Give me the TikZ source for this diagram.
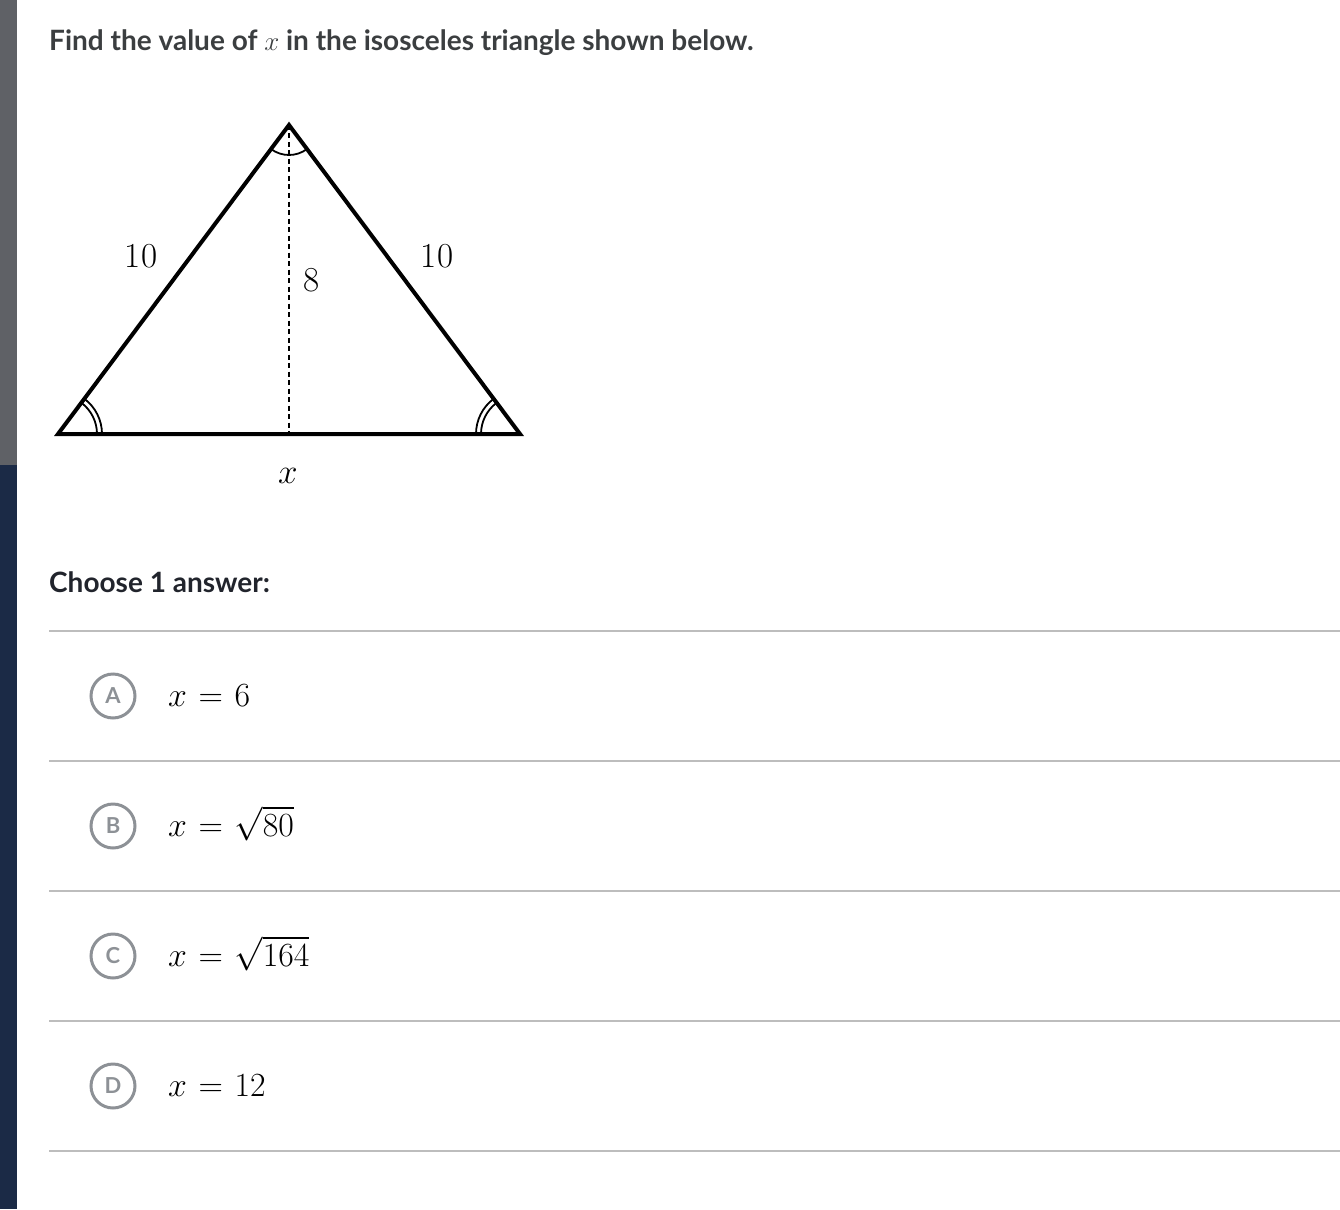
\documentclass[tikz,border=0pt]{standalone}
\usepackage{fontspec}
\usepackage{graphicx}
\newfontfamily\lato{Lato}
\newcommand{\answertext}[1]{\scalebox{1.36}{\Huge\thickmuskip=6.2mu #1}}
\newcommand{\sidetext}[1]{\scalebox{1.41}{\Huge #1}}
\definecolor{titlegrey}{HTML}{3B3E40}
\definecolor{choosedark}{HTML}{21242C}
\definecolor{rulegrey}{HTML}{BDBDBD}
\definecolor{optgrey}{HTML}{8D9196}
\definecolor{bargrey}{HTML}{5F6166}
\definecolor{barnavy}{HTML}{1B2A46}
\tikzset{
  optcircle/.style={circle, draw=optgrey, line width=3pt, minimum size=44pt, inner sep=0pt,
    text=optgrey, font=\lato\bfseries\fontsize{22}{22}\selectfont},
  answer/.style={anchor=base west, inner sep=0pt},
  sidelabel/.style={inner sep=0pt},
}
\begin{document}
\begin{tikzpicture}[x=1pt, y=-1pt]
    \useasboundingbox (0, 0) rectangle (1340, 1209);
    \fill[bargrey] (0, 0) rectangle (17, 465);
    \fill[barnavy] (0, 465) rectangle (17, 1209);

    \node (title) [anchor=base west, inner sep=0pt, text=titlegrey, font=\lato\bfseries\fontsize{28}{28}\selectfont]
        at (49, 51) {Find the value of \scalebox{1.3}{\huge\(x\)} in the isosceles triangle shown below.};

    \coordinate (top) at (289, 125);
    \coordinate (left) at (58, 434);
    \coordinate (right) at (520, 434);
    \coordinate (foot) at (289, 434);

    \draw[line width=1.6pt, dash pattern=on 5pt off 3.5pt] (top) -- (foot);
    \draw[line width=4pt, line join=miter] (top) -- (left) -- (right) -- cycle;

    \draw[line width=1.8pt] ([shift={(53.2:30)}]top) arc (53.2:126.8:30);
    \draw[line width=1.8pt] ([shift={(0:39)}]left) arc (0:-53.2:39);
    \draw[line width=1.8pt] ([shift={(0:44)}]left) arc (0:-53.2:44);
    \draw[line width=1.8pt] ([shift={(180:39)}]right) arc (180:233.2:39);
    \draw[line width=1.8pt] ([shift={(180:44)}]right) arc (180:233.2:44);

    \node (lside) [sidelabel] at (141, 256) {\sidetext{10}};
    \node (rside) [sidelabel] at (437, 256) {\sidetext{10}};
    \node (height) [sidelabel] at (312, 280) {\sidetext{8}};
    \node (base) [sidelabel] at (288, 476) {\sidetext{\(x\)}};

    \node (choose) [anchor=base west, inner sep=0pt, text=choosedark, font=\lato\bfseries\fontsize{28}{28}\selectfont]
        at (49, 592) {Choose 1 answer:};

    \foreach \yy in {631, 761, 891, 1021, 1151}
        \draw[rulegrey, line width=2pt] (49, \yy) -- (1340, \yy);

    \node (optA) [optcircle] at (113, 696) {A};
    \node (optB) [optcircle] at (113, 826) {B};
    \node (optC) [optcircle] at (113, 956) {C};
    \node (optD) [optcircle] at (113, 1086) {D};

    \node (ansA) [answer] at (168, 706) {\answertext{\(x = 6\)}};
    \node (ansB) [answer] at (168, 836) {\answertext{\(x = \sqrt{80}\)}};
    \node (ansC) [answer] at (168, 966) {\answertext{\(x = \sqrt{164}\)}};
    \node (ansD) [answer] at (168, 1096) {\answertext{\(x = 12\)}};
\end{tikzpicture}
\end{document}
